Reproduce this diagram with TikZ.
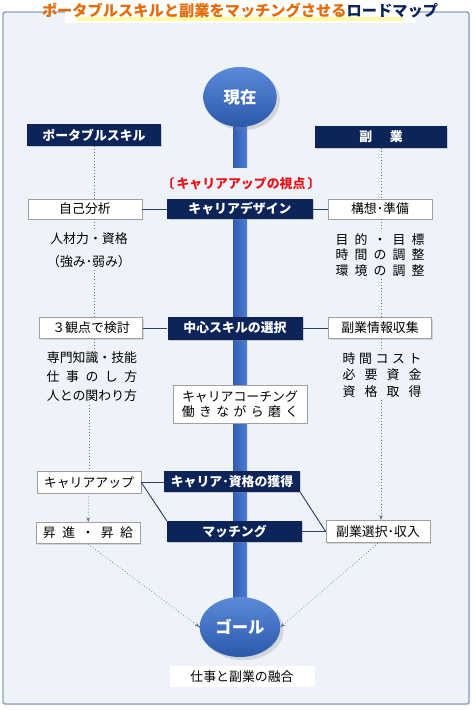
\documentclass[tikz,border=0pt]{standalone}
\usepackage{fontspec}
\setmainfont{Noto Sans CJK JP}
\usepackage{xcolor}
\usetikzlibrary{arrows.meta,positioning,shapes.geometric,shadows}

\definecolor{navy}{RGB}{12,36,88}
\definecolor{balltop}{RGB}{92,138,216}
\definecolor{ballbottom}{RGB}{44,88,170}
\definecolor{barleft}{RGB}{50,92,180}
\definecolor{barright}{RGB}{78,124,212}
\definecolor{framefill}{RGB}{238,243,250}
\definecolor{frameline}{RGB}{143,160,190}
\definecolor{titleorange}{RGB}{228,108,10}
\definecolor{viewred}{RGB}{230,20,25}
\definecolor{linkline}{RGB}{46,63,102}
\definecolor{dotgray}{RGB}{95,110,140}

\begin{document}
\begin{tikzpicture}[
    x=0.03cm, y=-0.03cm,
    font=\fontsize{11}{14}\selectfont,
    navybox/.style={fill=navy, text=white, font=\fontsize{11}{14}\selectfont\bfseries, minimum width=4.05cm, minimum height=0.64cm, inner sep=0pt, drop shadow={opacity=0.35, shadow xshift=1.2pt, shadow yshift=-1.2pt}},
    whitebox/.style={draw=gray!75, line width=0.6pt, fill=white, minimum width=3.12cm, minimum height=0.64cm, inner sep=0pt, drop shadow={opacity=0.25, shadow xshift=1pt, shadow yshift=-1pt}},
    ball/.style={ellipse, minimum width=2.2cm, minimum height=1.8cm, top color=balltop, bottom color=ballbottom, text=white, font=\fontsize{14}{16}\selectfont\bfseries, drop shadow={opacity=0.25}},
    link/.style={draw=linkline, line width=0.8pt},
    dotline/.style={draw=dotgray, dotted, line width=0.6pt},
    dotarrow/.style={dotline, -{Stealth[length=4pt,width=3pt]}},
    note/.style={align=center, inner sep=2pt}
]
\useasboundingbox (0,0) rectangle (474,710);
\draw[frameline, fill=framefill, rounded corners=2pt, line width=1.2pt, drop shadow={opacity=0.2, shadow xshift=1pt, shadow yshift=-1pt}] (3,12) rectangle (469,704);
\fill[white] (65,1) rectangle (416,23);
\fill[yellow!35] (77,17) rectangle (403,21);
\node[font=\fontsize{13}{15}\selectfont\bfseries] (title) at (240,11) {\textcolor{titleorange}{ポータブルスキルと副業をマッチングさせる}\textcolor{navy}{ロードマップ}};

\shade[left color=barleft, right color=barright] (233,115) rectangle (247,168);
\shade[left color=barleft, right color=barright] (233,205) rectangle (247,610);

\node[ball] (now) at (240,97) {現在};
\node[navybox, minimum width=3.99cm] (port) at (94,135) {ポータブルスキル};
\node[navybox, minimum width=3.96cm] (side) at (381,137) {\makebox[1.3cm][s]{副 業}};
\node[text=viewred, font=\fontsize{11}{14}\selectfont\bfseries] (view) at (241,184) {〔\,キャリアアップの視点\,〕};

\node[whitebox, minimum width=3.42cm, minimum height=0.6cm] (jiko) at (85,209) {自己分析};
\node[navybox, minimum width=4.35cm, minimum height=0.6cm] (design) at (240,209) {キャリアデザイン};
\node[whitebox, minimum height=0.6cm] (kousou) at (380,209) {構想･準備};

\node[note] (jinzai) at (89,250) {人材力・資格\\[6pt]（強み･弱み）};
\node[note, font=\fontsize{11}{13.2}\selectfont] (mokuteki) at (380,255) {\makebox[2.67cm][s]{目 的 ・ 目 標}\\\makebox[2.67cm][s]{時 間 の 調 整}\\\makebox[2.67cm][s]{環 境 の 調 整}};

\node[whitebox, minimum width=3.09cm] (kanten) at (91,328) {３観点で検討};
\node[navybox, minimum height=0.69cm] (core) at (235,328) {中心スキルの選択};
\node[whitebox, minimum width=3.09cm] (joho) at (380,328) {副業情報収集};

\node[note, font=\fontsize{11}{16.2}\selectfont] (senmon) at (92,377) {専門知識・技能\\\makebox[2.72cm][s]{仕 事 の し 方}\\人との関わり方};
\node[note] (cost) at (382,375) {\makebox[2.37cm][s]{時 間 コ ス ト}\\\makebox[2.37cm][s]{必 要 資 金}\\\makebox[2.37cm][s]{資 格 取 得}};
\node[whitebox, minimum width=4.02cm, minimum height=1.14cm, align=center, font=\fontsize{11}{13}\selectfont] (coach) at (240,404) {キャリアコーチング\\\makebox[3.49cm][s]{働 き な が ら 磨 く}};

\node[whitebox] (cup) at (89,482.5) {キャリアアップ};
\node[navybox, minimum width=4.08cm, minimum height=0.63cm] (gain) at (232,481.5) {キャリア･資格の獲得};
\node[whitebox] (shoshin) at (88,533) {\makebox[2.7cm][s]{昇 進 ・ 昇 給}};
\node[navybox, minimum height=0.63cm] (match) at (234.5,531.5) {マッチング};
\node[whitebox, minimum height=0.68cm] (sentaku) at (378,531.5) {副業選択･収入};

\node[ball] (goal) at (240,627) {ゴール};
\node[fill=white, minimum width=4.35cm, minimum height=0.63cm] (fusion) at (242,676.5) {仕事と副業の融合};

\draw[link] (jiko) -- (design);
\draw[link] (design) -- (kousou);
\draw[link] (kanten) -- (core);
\draw[link] (core) -- (joho);
\draw[link] (cup.east) -- (cup.east -| gain.west);
\draw[link] (cup.east) -- (match.north west);
\draw[link] (gain.south east) -- (sentaku.west);
\draw[link] (match) -- (sentaku);

\draw[dotline] (port.south) -- (port.south |- jiko.north);
\draw[dotline] (port.south |- jiko.south) -- (port.south |- jinzai.north);
\draw[dotline] (port.south |- jinzai.south) -- (port.south |- kanten.north);
\draw[dotline] (port.south |- kanten.south) -- (port.south |- senmon.north);
\draw[dotline] (cup.north |- senmon.south) -- (cup.north);
\draw[dotarrow] (cup) -- (shoshin);
\draw[dotline] (side.south) -- (side.south |- kousou.north);
\draw[dotline] (side.south |- kousou.south) -- (side.south |- mokuteki.north);
\draw[dotline] (side.south |- mokuteki.south) -- (side.south |- joho.north);
\draw[dotline] (side.south |- joho.south) -- (side.south |- cost.north);
\draw[dotarrow] (side.south |- cost.south) -- (side.south |- sentaku.north);
\draw[dotarrow] (shoshin.south) -- (goal.west);
\draw[dotarrow] (sentaku.south) -- (goal.east);
\end{tikzpicture}
\end{document}
